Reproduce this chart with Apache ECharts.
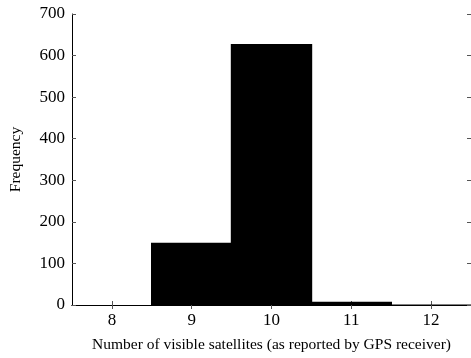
<!DOCTYPE html>
<html><head><meta charset="utf-8">
<script src="https://cdn.jsdelivr.net/npm/echarts@6/dist/echarts.min.js"></script>
<style>html,body{margin:0;padding:0;background:#fff}#c{width:471px;height:358px}</style>
</head><body><div id="c"></div>
<script>
const categories = ['8', '9', '10', '11', '12'];
const frequency = [0, 150, 628, 8, 1];
const yTicks = { min: 0, max: 700, interval: 100 };
const xTitle = 'Number of visible satellites (as reported by GPS receiver)';
const yTitle = 'Frequency';

const font = 'Liberation Serif, Times New Roman, serif';
const chart = echarts.init(document.getElementById('c'));
const tickStyle = { show: true, inside: true, length: 4, lineStyle: { color: '#555', width: 1 } };
chart.setOption({
  animation: false,
  backgroundColor: '#fff',
  grid: { left: 69, top: 14, right: 0, bottom: 47, containLabel: false },
  xAxis: [{
    type: 'category', data: categories, position: 'bottom',
    axisLine: { show: true, lineStyle: { color: '#000', width: 1 } },
    axisTick: Object.assign({ alignWithLabel: true }, tickStyle),
    axisLabel: { color: '#000', fontFamily: font, fontSize: 17, margin: 7 },
    name: xTitle, nameLocation: 'middle', nameGap: 32,
    nameTextStyle: { color: '#000', fontFamily: font, fontSize: 15.5 }
  }, {
    type: 'category', data: categories, position: 'top',
    axisLine: { show: true, lineStyle: { color: '#000', width: 1 } },
    axisTick: Object.assign({ alignWithLabel: true }, tickStyle),
    axisLabel: { show: false }
  }],
  yAxis: [{
    type: 'value', min: yTicks.min, max: yTicks.max, interval: yTicks.interval, position: 'left',
    axisLine: { show: true, lineStyle: { color: '#000', width: 1 } },
    axisTick: tickStyle,
    splitLine: { show: false },
    axisLabel: { color: '#000', fontFamily: font, fontSize: 17, margin: 7 },
    name: yTitle, nameLocation: 'middle', nameGap: 48, nameRotate: 90,
    nameTextStyle: { color: '#000', fontFamily: font, fontSize: 15.5 }
  }, {
    type: 'value', min: yTicks.min, max: yTicks.max, interval: yTicks.interval, position: 'right',
    axisLine: { show: false },
    axisTick: tickStyle,
    splitLine: { show: false },
    axisLabel: { show: false }
  }],
  series: [{
    type: 'bar', data: frequency, xAxisIndex: 0, yAxisIndex: 0,
    barWidth: '102%',
    itemStyle: { color: '#000' }
  }]
});
</script></body></html>
